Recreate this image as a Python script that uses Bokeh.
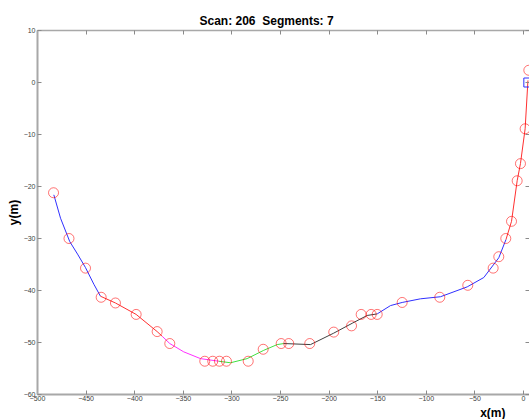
from math import pi
from bokeh.plotting import figure
from bokeh.models import Range1d, FixedTicker, LinearAxis, Title
from bokeh.embed import file_html
from bokeh.resources import INLINE

# ---- data ----
x_ticks = [-500, -450, -400, -350, -300, -250, -200, -150, -100, -50, 0]
y_ticks = [-60, -50, -40, -30, -20, -10, 0, 10]

pts_x = [-483.5, -467.6, -450.6, -434.5, -419.8, -398.5, -376.9, -363.9,
         -327.9, -319.7, -312.8, -305.6, -283.2, -267.8, -249.3, -241.5,
         -219.9, -195.2, -176.9, -167.0, -156.7, -150.5, -124.8, -86.1,
         -57.3, -31.2, -25.4, -18.2, -12.3, -6.5, -3.1, 1.7, 5.5]
pts_y = [-21.2, -30.0, -35.7, -41.3, -42.4, -44.6, -47.9, -50.2,
         -53.6, -53.6, -53.6, -53.6, -53.6, -51.3, -50.2, -50.2,
         -50.2, -48.0, -46.8, -44.6, -44.6, -44.6, -42.3, -41.3,
         -39.0, -35.7, -33.5, -30.0, -26.7, -18.9, -15.6, -8.9, 2.35]

seg1_x = [-483.2, -476.3, -466.8, -458.8, -450.6, -442.0, -435.2]
seg1_y = [-21.6, -26.1, -30.6, -33.0, -35.6, -38.8, -41.1]
seg2_x = [-435.2, -419.8, -398.5, -376.9, -371.7]
seg2_y = [-41.1, -42.4, -44.6, -47.9, -48.8]
seg3_x = [-371.7, -363.9, -349.5, -332.3, -313.5]
seg3_y = [-48.8, -50.2, -51.8, -53.1, -53.6]
seg4_x = [-313.5, -301.4, -284.3, -267.2, -253.4, -246.6]
seg4_y = [-53.6, -53.9, -53.1, -51.5, -50.4, -50.2]
seg5_x = [-246.6, -219.1, -195.2, -176.2, -160.8, -150.5]
seg5_y = [-50.2, -50.4, -48.2, -46.3, -44.8, -44.5]
seg6_x = [-150.5, -136.8, -124.8, -106.0, -85.4, -57.9, -40.8, -25.4, -18.0]
seg6_y = [-44.5, -42.9, -42.3, -41.6, -41.2, -39.3, -37.5, -33.7, -30.2]
seg7_x = [-18.0, -12.3, -6.5, -3.1, 1.7, 4.6]
seg7_y = [-30.2, -26.7, -18.9, -15.6, -8.9, 0.4]
seg_colors = ["#3030ff", "#ff3030", "#ff30ff", "#40e040", "#404040", "#3030ff", "#ff3030"]

sensor_x = [5.0]
sensor_y = [0.0]

title_text = "Scan: 206\u00a0 Segments: 7"
x_label = "x(m)"
y_label = "y(m)"

# ---- figure ----
p = figure(width=529, height=419, output_backend="svg", toolbar_location=None,
           x_range=Range1d(-500, 6.2), y_range=Range1d(-60, 10),
           min_border_left=37, min_border_right=0, min_border_top=30,
           min_border_bottom=23, x_axis_location=None, y_axis_location=None)
p.outline_line_color = None
p.grid.visible = False
p.background_fill_color = "white"
p.border_fill_color = "white"

p.title.text = title_text
p.title.align = "left"
p.title.offset = 162
p.title.standoff = 6
p.title.text_font = "Liberation Sans"
p.title.text_font_style = "bold"
p.title.text_font_size = "12px"
p.title.text_color = "black"


def style_axis(ax, ticks, show_labels=True, show_line=True):
    ax.ticker = FixedTicker(ticks=ticks)
    ax.major_tick_in = 4
    ax.major_tick_out = 0
    ax.minor_tick_line_color = None
    ax.major_tick_line_color = "#8a8a8a"
    ax.axis_line_color = "#a8a8a8" if show_line else None
    ax.axis_line_width = 2
    ax.major_label_text_font = "Liberation Sans"
    ax.major_label_text_color = "#404040"
    ax.major_label_text_font_size = "7px"
    if show_labels:
        ax.major_label_standoff = 2
    else:
        ax.major_label_standoff = 0
        ax.major_label_overrides = {t: "" for t in ticks}


ax_b = LinearAxis()
style_axis(ax_b, x_ticks)
ax_b.major_label_standoff = 1
p.add_layout(ax_b, "below")

ax_l = LinearAxis(axis_label=y_label)
style_axis(ax_l, y_ticks)
ax_l.axis_label_standoff = 0
ax_l.axis_label_text_font = "Liberation Sans"
ax_l.axis_label_text_font_style = "bold"
ax_l.axis_label_text_font_size = "12px"
ax_l.axis_label_text_color = "black"
p.add_layout(ax_l, "left")

ax_t = LinearAxis()
style_axis(ax_t, x_ticks, show_labels=False)
ax_t.axis_line_width = 1.5
p.add_layout(ax_t, "above")

ax_r = LinearAxis()
style_axis(ax_r, y_ticks, show_labels=False, show_line=False)
p.add_layout(ax_r, "right")

xl = Title(text=x_label, align="right", offset=24, standoff=0,
           text_font="Liberation Sans", text_font_style="bold",
           text_font_size="12px", text_color="black")
p.add_layout(xl, "below")

segs = [(seg1_x, seg1_y), (seg2_x, seg2_y), (seg3_x, seg3_y), (seg4_x, seg4_y),
        (seg5_x, seg5_y), (seg6_x, seg6_y), (seg7_x, seg7_y)]
for (sx, sy), c in zip(segs, seg_colors):
    p.line(sx, sy, line_color=c, line_width=1)

p.scatter(pts_x, pts_y, marker="circle", size=10, fill_color=None,
          line_color="#ff0000", line_alpha=0.55, line_width=1)
p.scatter(sensor_x, sensor_y, marker="square", size=9, fill_color=None,
          line_color="#3030ff", line_width=1)

open("out.html", "w").write(file_html(p, INLINE))
